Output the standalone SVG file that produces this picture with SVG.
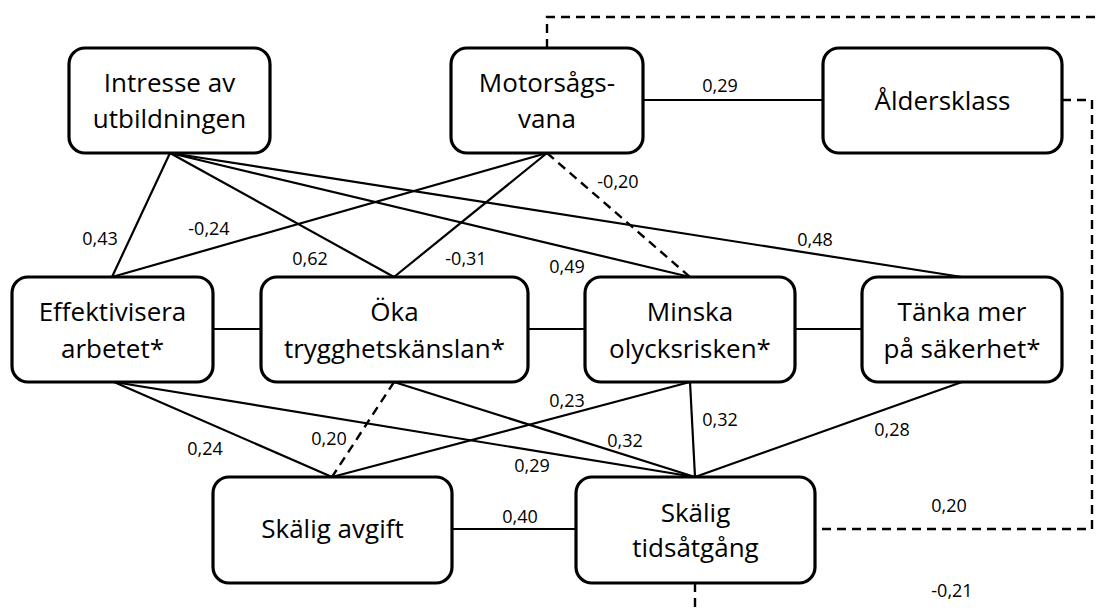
<svg xmlns="http://www.w3.org/2000/svg" width="1101" height="610" viewBox="0 0 1101 610">
<style>
.box{fill:#fff;stroke:#000;stroke-width:3.2}
.t{font-family:"Open Sans","Liberation Sans",sans-serif;font-size:26px;text-anchor:middle;fill:#000}
.l{font-family:"Open Sans","Liberation Sans",sans-serif;font-size:18px;text-anchor:middle;fill:#000}
.c{stroke:#000;stroke-width:2.2;fill:none}
.d{stroke:#000;stroke-width:2.4;fill:none;stroke-dasharray:9 6}
</style>
<rect width="1101" height="610" fill="#fff"/>
<g id="connectors">
<line class="c" x1="643" y1="100" x2="823" y2="100"/>
<line class="c" x1="170" y1="153" x2="112" y2="277"/>
<line class="c" x1="170" y1="153" x2="394" y2="277"/>
<line class="c" x1="170" y1="153" x2="690" y2="277"/>
<line class="c" x1="170" y1="153" x2="962" y2="277"/>
<line class="c" x1="547" y1="153" x2="112" y2="277"/>
<line class="c" x1="547" y1="153" x2="394" y2="277"/>
<line class="d" x1="547" y1="153" x2="690" y2="277"/>
<line class="c" x1="213" y1="329" x2="261" y2="329"/>
<line class="c" x1="528" y1="329" x2="585" y2="329"/>
<line class="c" x1="795" y1="329" x2="862" y2="329"/>
<line class="c" x1="114" y1="382" x2="332" y2="477"/>
<line class="c" x1="114" y1="382" x2="695" y2="477"/>
<line class="d" x1="394" y1="382" x2="332" y2="477"/>
<line class="c" x1="394" y1="382" x2="695" y2="477"/>
<line class="c" x1="690" y1="382" x2="332" y2="477"/>
<line class="c" x1="690" y1="382" x2="695" y2="477"/>
<line class="c" x1="962" y1="382" x2="695" y2="477"/>
<line class="c" x1="452" y1="529" x2="576" y2="529"/>
<polyline class="d" points="547,48 547,17 1101,17"/>
<polyline class="d" points="1062,100 1092,100 1092,529 815,529"/>
<line class="d" x1="695" y1="583" x2="695" y2="610"/>
</g>
<g id="labels">
<text class="l" x="720" y="92">0,29</text>
<text class="l" x="100" y="245">0,43</text>
<text class="l" x="209" y="235">-0,24</text>
<text class="l" x="310" y="265">0,62</text>
<text class="l" x="466" y="265">-0,31</text>
<text class="l" x="618" y="188">-0,20</text>
<text class="l" x="567" y="273">0,49</text>
<text class="l" x="815" y="246">0,48</text>
<text class="l" x="205" y="455">0,24</text>
<text class="l" x="329" y="445">0,20</text>
<text class="l" x="532" y="472">0,29</text>
<text class="l" x="520" y="523">0,40</text>
<text class="l" x="567" y="407">0,23</text>
<text class="l" x="625" y="447">0,32</text>
<text class="l" x="720" y="426">0,32</text>
<text class="l" x="892" y="436">0,28</text>
<text class="l" x="949" y="512">0,20</text>
<text class="l" x="952" y="597">-0,21</text>
</g>
<g id="intresse">
<rect class="box" x="69" y="48" width="201" height="105" rx="16"/>
<text class="t" x="169.5" y="92">Intresse av</text>
<text class="t" x="169.5" y="128">utbildningen</text>
</g>
<g id="motorsagsvana">
<rect class="box" x="451" y="48" width="192" height="105" rx="16"/>
<text class="t" x="547" y="92">Motorsågs-</text>
<text class="t" x="547" y="128">vana</text>
</g>
<g id="aldersklass">
<rect class="box" x="823" y="48" width="239" height="105" rx="16"/>
<text class="t" x="942.5" y="110">Åldersklass</text>
</g>
<g id="effektivisera">
<rect class="box" x="12" y="277" width="201" height="105" rx="16"/>
<text class="t" x="112.5" y="321">Effektivisera</text>
<text class="t" x="112.5" y="358">arbetet*</text>
</g>
<g id="oka">
<rect class="box" x="261" y="277" width="267" height="105" rx="16"/>
<text class="t" x="394.5" y="321">Öka</text>
<text class="t" x="394.5" y="358">trygghetskänslan*</text>
</g>
<g id="minska">
<rect class="box" x="585" y="277" width="210" height="105" rx="16"/>
<text class="t" x="690" y="321">Minska</text>
<text class="t" x="690" y="358">olycksrisken*</text>
</g>
<g id="tanka">
<rect class="box" x="862" y="277" width="200" height="105" rx="16"/>
<text class="t" x="962" y="321">Tänka mer</text>
<text class="t" x="962" y="358">på säkerhet*</text>
</g>
<g id="skalig-avgift">
<rect class="box" x="213" y="477" width="239" height="106" rx="16"/>
<text class="t" x="332.5" y="538">Skälig avgift</text>
</g>
<g id="skalig-tidsatgang">
<rect class="box" x="576" y="477" width="239" height="106" rx="16"/>
<text class="t" x="695.5" y="522">Skälig</text>
<text class="t" x="695.5" y="557">tidsåtgång</text>
</g>
</svg>
